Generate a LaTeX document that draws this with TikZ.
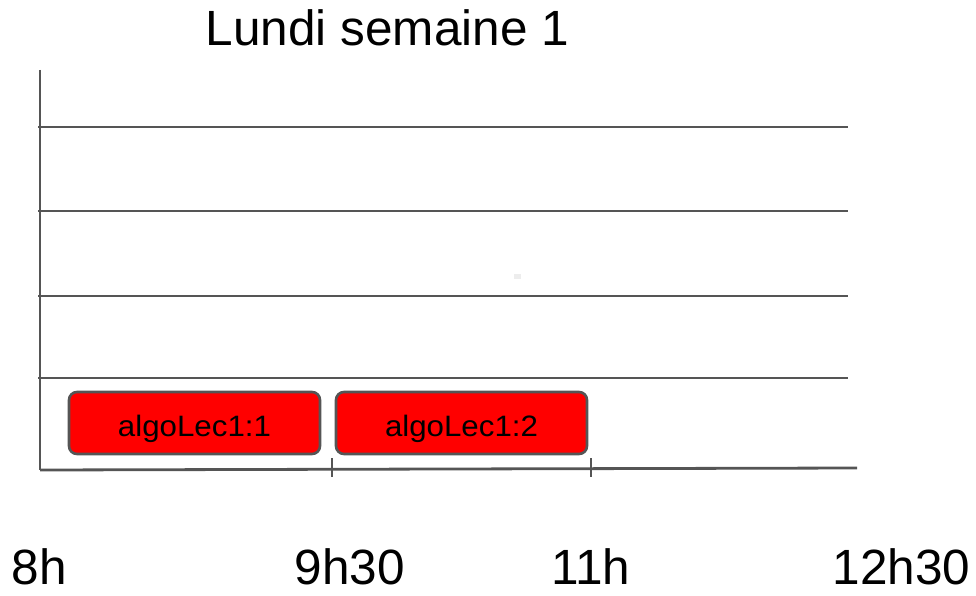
\documentclass[tikz,border=0pt]{standalone}
\usepackage{fontspec}
\setmainfont{Liberation Sans}
\definecolor{axisgrey}{HTML}{555555}
\definecolor{boxred}{HTML}{FF0000}
\definecolor{faint}{HTML}{EDEDED}
\tikzset{
  axisline/.style={draw=axisgrey, line width=2.8pt},
  slot/.style={draw=axisgrey, line width=2.6pt, fill=boxred, rounded corners=8pt,
    minimum width=251pt, minimum height=62pt, inner sep=0pt},
  slottext/.style={anchor=base, font=\fontsize{29.5}{34}\selectfont, xscale=1.06, inner sep=0pt},
  bigtext/.style={anchor=base, font=\fontsize{49.5}{58}\selectfont, inner sep=0pt},
}
\begin{document}
\begin{tikzpicture}[x=1pt,y=-1pt]
\useasboundingbox (0,0) rectangle (976,596);
% axes
\coordinate (ytop) at (40,70);
\coordinate (origin) at (40,470);
\coordinate (xend) at (857,468);
\draw[axisline] (ytop) -- (origin);
\draw[axisline] (origin) -- (xend);
% horizontal grid lines
\foreach \y in {127,211,296,378} {
  \draw[axisline] (38,\y) -- (848,\y);
}
% ticks
\coordinate (t1top) at (332,458); \coordinate (t1bot) at (332,477);
\coordinate (t2top) at (591,458); \coordinate (t2bot) at (591,477);
\draw[axisline] (t1top) -- (t1bot);
\draw[axisline] (t2top) -- (t2bot);
% faint mark
\node[fill=faint, minimum width=7pt, minimum height=5pt, inner sep=0pt] (dot) at (517,276.5) {};
% slots
\node[slot] (s1) at (194.5,423) {};
\node[slot] (s2) at (461.5,423) {};
\node[slottext] (s1t) at (194.5,436) {algoLec1:1};
\node[slottext] (s2t) at (461.5,436) {algoLec1:2};
% title
\node[bigtext] (title) at (387.5,46) {Lundi semaine 1};
% time labels
\node[bigtext] (l8) at (39.5,584) {8h};
\node[bigtext] (l930) at (350,584) {9h30};
\node[bigtext] (l11) at (591,584) {11h};
\node[bigtext] (l1230) at (901.5,584) {12h30};
\end{tikzpicture}
\end{document}
